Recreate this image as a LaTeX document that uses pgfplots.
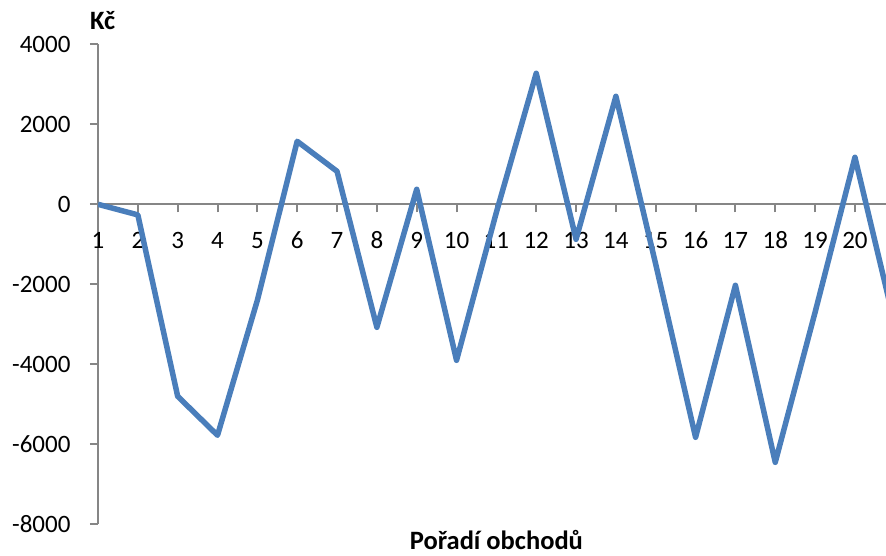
\documentclass[border=0pt]{standalone}
\usepackage{fontspec}
\setmainfont{Carlito}
\usepackage{pgfplots}
\pgfplotsset{compat=1.18}

\definecolor{seriesblue}{RGB}{74,126,187}
\definecolor{axisgray}{RGB}{134,134,134}
\newcommand\chartfont{\fontsize{25}{30}\selectfont}
\newcommand\titlefont{\fontsize{26.5}{31}\selectfont\bfseries}

\begin{document}
\begin{tikzpicture}
\useasboundingbox (0,0) rectangle (886pt,556pt);
\begin{axis}[
  at={(98pt,31.7pt)}, anchor=south west,
  scale only axis, width=788pt, height=480pt,
  xmin=1, xmax=20.78, ymin=-8000, ymax=4000,
  axis x line=middle, axis y line=left,
  axis line style={-, color=axisgray, line width=2pt},
  every inner x axis line/.append style={-},
  every outer y axis line/.append style={-},
  hide obscured x ticks=false,
  xtick={1,...,21},
  ytick={-8000,-6000,-4000,-2000,0,2000,4000},
  yticklabels={-8000,-6000,-4000,-2000,0,2000,4000},
  tick align=outside,
  major tick length=8pt,
  tick style={color=axisgray, line width=2pt},
  minor tick num=0,
  /pgf/number format/assume math mode=true,
  tick label style={font=\chartfont, text=black},
  xticklabel style={anchor=base, yshift=-36pt},
  yticklabel style={anchor=east, xshift=-16pt},
  xlabel={Pořadí obchodů},
  xlabel style={at={(axis description cs:0.5056,0)}, anchor=base,
    inner sep=0pt, yshift=-25pt, font=\titlefont},
  ylabel={Kč},
  ylabel style={rotate=-90, at={(axis description cs:0,1)}, anchor=base west,
    inner sep=0pt, xshift=-8pt, yshift=14.3pt, font=\titlefont},
  clip=true,
]
\addplot[seriesblue, line width=5.5pt, line join=round, mark=none] coordinates {
  (1,0) (2,-265) (3,-4800) (4,-5775) (5,-2400) (6,1575) (7,825)
  (8,-3075) (9,375) (10,-3900) (11,-200) (12,3275) (13,-875)
  (14,2700) (15,-1500) (16,-5825) (17,-2025) (18,-6450) (19,-2700)
  (20,1175) (21,-3000)
};
\end{axis}
\end{tikzpicture}
\end{document}
